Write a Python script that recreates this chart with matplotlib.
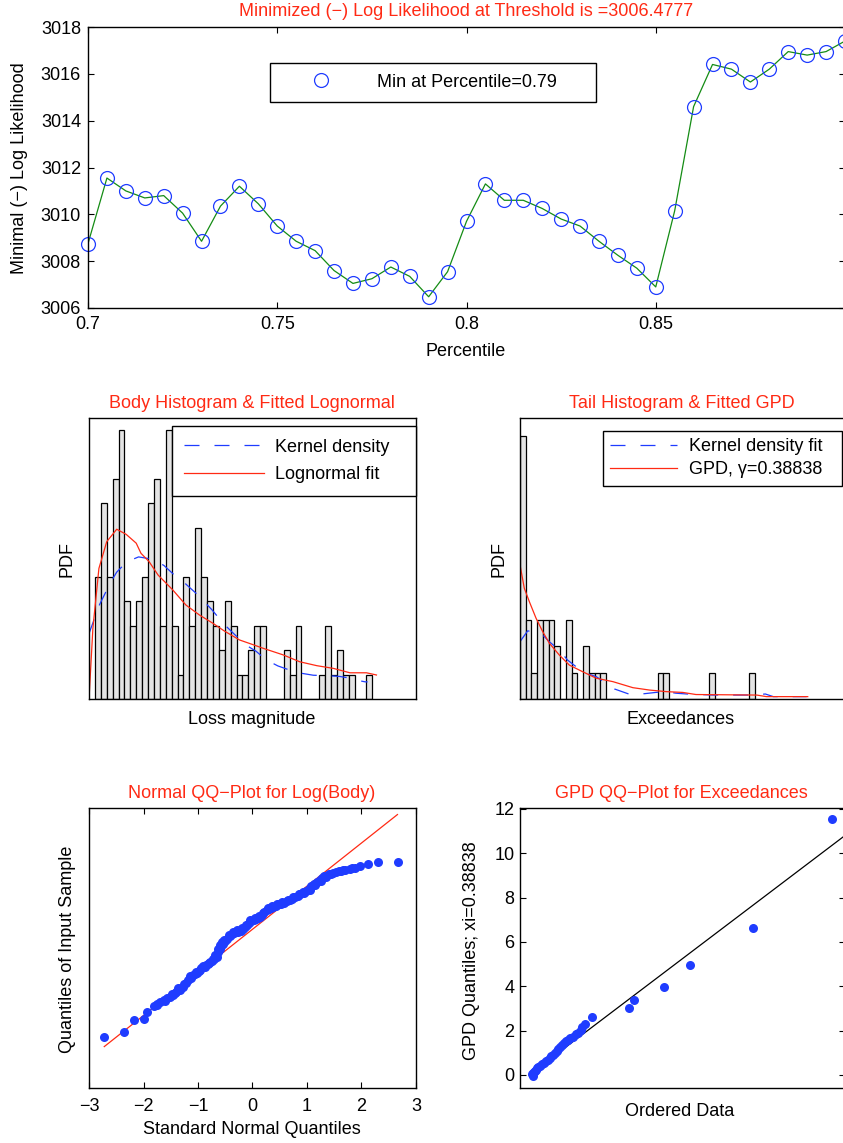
import matplotlib.pyplot as plt

plt.rcParams['font.family'] = ['Liberation Sans', 'DejaVu Sans']
plt.rcParams['font.size'] = 13
plt.rcParams['axes.linewidth'] = 1.0

W, H = 843, 1143
RED = '#ff2a14'
BLUE = '#1f3cff'
GREEN = '#148c14'
GRAY = '#e4e4e4'

# --- top panel: (-) log likelihood vs threshold percentile
percentile = [0.700, 0.705, 0.710, 0.715, 0.720, 0.725, 0.730, 0.735, 0.740, 0.745,
              0.750, 0.755, 0.760, 0.765, 0.770, 0.775, 0.780, 0.785, 0.790, 0.795,
              0.800, 0.805, 0.810, 0.815, 0.820, 0.825, 0.830, 0.835, 0.840, 0.845,
              0.850, 0.855, 0.860, 0.865, 0.870, 0.875, 0.880, 0.885, 0.890, 0.895,
              0.900]
neg_loglik = [3008.75, 3011.55, 3011.0, 3010.7, 3010.8, 3010.05, 3008.85, 3010.35, 3011.2, 3010.45,
              3009.5, 3008.85, 3008.45, 3007.6, 3007.05, 3007.25, 3007.75, 3007.35, 3006.48, 3007.55,
              3009.7, 3011.3, 3010.6, 3010.6, 3010.25, 3009.8, 3009.5, 3008.85, 3008.25, 3007.7,
              3006.9, 3010.15, 3014.6, 3016.4, 3016.2, 3015.65, 3016.2, 3016.95, 3016.8, 3016.95,
              3017.4]
top_xticks = [0.7, 0.75, 0.8, 0.85]
top_xticklabels = ['0.7', '0.75', '0.8', '0.85']
top_yticks = [3006, 3008, 3010, 3012, 3014, 3016, 3018]

# --- body histogram (x in bin-width units, y in counts)
body_counts = [5, 8, 5, 9, 11, 4, 3, 4, 5, 8, 9, 3, 11, 3, 1, 5, 3, 7, 5, 4,
               3, 2, 4, 3, 1, 1, 2, 3, 3, 0, 0, 0, 2, 1, 3, 0, 0, 0, 1, 3,
               1, 2, 1, 1, 0, 0, 1]
body_kde_x = [-1.0, 0.8, 2.7, 3.7, 5.4, 7.4, 9.9, 11.7, 13.5, 15.0, 17.2, 19.8, 21.8,
              23.6, 25.6, 27.3, 29.0, 31.0, 33.0, 35.0, 37.0, 39.5, 41.5, 43.0, 44.5, 45.8, 46.2]
body_kde_y = [2.67, 3.86, 4.78, 5.18, 5.6, 5.8, 5.7, 5.45, 5.05, 4.78, 4.3, 3.65, 3.07,
              2.65, 2.2, 1.95, 1.6, 1.35, 1.18, 1.05, 0.97, 0.95, 0.92, 0.86, 0.76, 0.7, 0.7]
body_fit_x = [-1.0, -0.34, 0.68, 2.0, 3.7, 5.3, 7.0, 7.8, 9.2, 10.7, 13.2, 15.4, 17.7,
              20.0, 21.9, 24.5, 27.0, 28.5, 31.9, 34.7, 37.6, 40.4, 43.2, 46.0, 47.7]
body_fit_y = [0.0, 2.89, 5.33, 6.42, 6.93, 6.72, 6.36, 5.95, 5.6, 5.06, 4.45, 3.84, 3.43,
              3.09, 2.78, 2.41, 2.2, 2.07, 1.8, 1.52, 1.36, 1.25, 1.07, 1.07, 0.98]

# --- tail histogram
tail_counts = [10, 3, 1, 3, 3, 3, 2, 0, 3, 1, 0, 2, 1, 1, 1, 0, 0, 0, 0, 0,
               0, 0, 0, 0, 1, 1, 0, 0, 0, 0, 0, 0, 0, 1, 0, 0, 0, 0, 0, 0, 1]
tail_kde_x = [0.0, 1.34, 3.66, 5.1, 6.86, 8.3, 9.77, 11.5, 13.3, 15.0, 16.5, 19.1, 20.8,
              23.7, 25.5, 27.2, 29.1, 33.7, 37.2, 40.7, 42.8, 44.2, 48.3, 50.0]
tail_kde_y = [2.18, 2.59, 2.5, 2.18, 1.86, 1.48, 1.23, 0.98, 0.85, 0.6, 0.38, 0.18, 0.18,
              0.25, 0.28, 0.22, 0.19, 0.15, 0.15, 0.15, 0.19, 0.09, 0.09, 0.09]
tail_fit_x = [0.0, 0.75, 1.63, 2.8, 3.96, 5.12, 6.86, 8.6, 10.9, 13.3, 16.2, 19.7, 22.6,
              25.5, 28.4, 30.7, 41.3, 43.0, 50.2]
tail_fit_y = [5.1, 4.21, 3.7, 3.07, 2.56, 2.12, 1.67, 1.29, 1.04, 0.79, 0.66, 0.43, 0.34,
              0.28, 0.25, 0.17, 0.15, 0.09, 0.09]
gpd_xi = 0.38838

# --- normal QQ plot of log(body)
qq_norm_x = [-2.72, -2.36, -2.17, -2.00, -1.93, -1.81, -1.75, -1.70, -1.63, -1.57,
             -1.52, -1.45, -1.40, -1.36, -1.31, -1.27, -1.22, -1.18, -1.15, -1.10,
             -1.06, -1.02, -0.98, -0.94, -0.90, -0.86, -0.82, -0.78, -0.74, -0.70,
             -0.66, -0.63, -0.60, -0.57, -0.54, -0.50, -0.46, -0.42, -0.38, -0.34,
             -0.30, -0.26, -0.22, -0.18, -0.14, -0.10, -0.06, -0.02, 0.02, 0.06,
             0.10, 0.14, 0.18, 0.22, 0.26, 0.30, 0.34, 0.38, 0.43, 0.48,
             0.53, 0.58, 0.63, 0.68, 0.73, 0.78, 0.83, 0.88, 0.93, 0.98,
             1.03, 1.08, 1.13, 1.18, 1.23, 1.28, 1.34, 1.40, 1.47, 1.54,
             1.62, 1.70, 1.78, 1.88, 1.97, 2.12, 2.31, 2.67,
             -1.75, -1.60, -1.48, -1.42, -1.33, -1.25, -1.12, -1.04, -0.96, -0.88,
             -0.80, -0.72, -0.68, -0.64, -0.60, -0.56, -0.52, -0.44, -0.36, -0.28,
             -0.20, -0.12, -0.04, 0.04, 0.12, 0.20, 0.28, 0.36, 0.45, 0.55,
             0.65, 0.75, 0.85, 0.95, 1.05, 1.15, 1.25, 1.32, 1.44, 1.58,
             1.66, 1.82]
qq_norm_y = [0.94, 1.02, 1.24, 1.26, 1.39, 1.50, 1.53, 1.57, 1.61, 1.65,
             1.67, 1.71, 1.76, 1.83, 1.84, 1.86, 1.93, 1.99, 2.05, 2.07,
             2.09, 2.11, 2.15, 2.20, 2.24, 2.26, 2.28, 2.31, 2.34, 2.37,
             2.41, 2.50, 2.55, 2.60, 2.65, 2.69, 2.74, 2.79, 2.82, 2.84,
             2.86, 2.87, 2.89, 2.92, 2.96, 2.99, 3.03, 3.06, 3.08, 3.10,
             3.12, 3.14, 3.18, 3.23, 3.27, 3.29, 3.31, 3.33, 3.35, 3.37,
             3.38, 3.40, 3.43, 3.45, 3.47, 3.50, 3.53, 3.56, 3.60, 3.62,
             3.66, 3.71, 3.75, 3.78, 3.82, 3.86, 3.88, 3.92, 3.94, 3.96,
             3.99, 4.00, 4.02, 4.04, 4.07, 4.12, 4.14, 4.14,
             1.55, 1.60, 1.72, 1.74, 1.80, 1.90, 2.02, 2.13, 2.17, 2.22,
             2.30, 2.36, 2.45, 2.55, 2.62, 2.68, 2.72, 2.80, 2.86, 2.90,
             2.93, 3.00, 3.08, 3.12, 3.16, 3.22, 3.30, 3.35, 3.38, 3.42,
             3.46, 3.50, 3.56, 3.58, 3.64, 3.72, 3.80, 3.90, 3.93, 3.98,
             4.01, 4.03]
qq_norm_line_x = [-2.72, 2.66]
qq_norm_line_y = [0.76, 5.02]

# --- GPD QQ plot of exceedances
qq_gpd_x = [0.12, 0.10, 0.15, 0.18, 0.20, 0.24, 0.26, 0.32, 0.38, 0.45,
            0.52, 0.58, 0.64, 0.70, 0.76, 0.82, 0.88, 0.94, 1.00, 1.06,
            1.12, 1.18, 1.26, 1.32, 1.40, 1.50, 1.60, 1.68, 1.76, 1.82,
            1.91, 2.15, 3.42, 3.57, 4.62, 5.50, 7.67, 10.35]
qq_gpd_y = [-0.03, 0.02, 0.07, 0.12, 0.18, 0.24, 0.30, 0.37, 0.42, 0.48,
            0.55, 0.62, 0.69, 0.76, 0.84, 0.92, 1.00, 1.08, 1.16, 1.25,
            1.33, 1.42, 1.52, 1.58, 1.65, 1.73, 1.83, 1.90, 2.03, 2.15,
            2.29, 2.62, 3.01, 3.38, 3.98, 4.98, 6.64, 11.55]
qq_gpd_line_x = [0.0, 11.5]
qq_gpd_line_y = [0.0, 11.5]
gpd_yticks = [0, 2, 4, 6, 8, 10, 12]


def rect(l, t, r, b):
    return [l / W, 1 - b / H, (r - l) / W, (b - t) / H]


fig = plt.figure(figsize=(W / 100, H / 100), dpi=100)


def ftext(x, y, s, **kw):
    fig.text(x / W, 1 - y / H, s, ha='center', va='center', **kw)


def box_ticks(ax):
    ax.tick_params(direction='in', top=True, right=True, length=4, width=0.8)


# top panel
ax1 = fig.add_axes(rect(88, 27, 845, 308))
ax1.plot(percentile, neg_loglik, '-', color=GREEN, lw=0.9)
ax1.plot(percentile, neg_loglik, 'o', mfc='none', mec=BLUE, ms=10, mew=0.9,
         clip_on=False, label='Min at Percentile=0.79')
ax1.set_xlim(0.7, 0.9)
ax1.set_ylim(3006, 3018)
ax1.set_xticks(top_xticks)
ax1.set_xticklabels(top_xticklabels)
ax1.set_yticks(top_yticks)
box_ticks(ax1)
ax1.tick_params(axis='x', pad=6)
ax1.tick_params(axis='y', pad=5)
leg = ax1.legend(loc='upper left', bbox_to_anchor=(0.2404, 0.872, 0.4306, 0.0), mode='expand',
                 borderaxespad=0, fancybox=False, framealpha=1, edgecolor='black',
                 handlelength=4.5, handletextpad=0.8, borderpad=0.6)
leg.get_frame().set_linewidth(1.0)
ftext(466, 12, 'Minimized (\u2212) Log Likelihood at Threshold is =3006.4777', color=RED)
ftext(20, 168, 'Minimal (\u2212) Log Likelihood', rotation=90)
ftext(466, 352, 'Percentile')

# body histogram
ax2 = fig.add_axes(rect(89, 418, 416, 699))
ax2.bar(range(len(body_counts)), body_counts, width=1, align='edge',
        color=GRAY, edgecolor='black', linewidth=0.9)
ax2.plot(body_kde_x, body_kde_y, color=BLUE, lw=0.9, dashes=[12, 12], label='Kernel density')
ax2.plot(body_fit_x, body_fit_y, color=RED, lw=0.9, label='Lognormal fit')
ax2.set_xlim(-1.0, 54.4)
ax2.set_ylim(0, 11.47)
ax2.set_xticks([])
ax2.set_yticks([])
leg = ax2.legend(loc='upper left', bbox_to_anchor=(0.253, 0.9715, 0.747, 0.0), mode='expand',
                 borderaxespad=0, fancybox=False, framealpha=1, edgecolor='black',
                 handlelength=4.4, handletextpad=0.6, labelspacing=0.6, borderpad=0.7)
leg.get_frame().set_linewidth(1.0)
ftext(252, 403, 'Body Histogram & Fitted Lognormal', color=RED)
ftext(252, 720, 'Loss magnitude')
ftext(67, 559, 'PDF', rotation=90)

# tail histogram
ax3 = fig.add_axes(rect(520, 418, 845, 699))
ax3.bar(range(len(tail_counts)), tail_counts, width=1, align='edge',
        color=GRAY, edgecolor='black', linewidth=0.9)
ax3.plot(tail_kde_x, tail_kde_y, color=BLUE, lw=0.9, dashes=[12, 12], label='Kernel density fit')
ax3.plot(tail_fit_x, tail_fit_y, color=RED, lw=0.9, label='GPD, \u03b3=%g' % gpd_xi)
ax3.set_xlim(0, 56.7)
ax3.set_ylim(0, 10.68)
ax3.set_xticks([])
ax3.set_yticks([])
leg = ax3.legend(loc='upper left', bbox_to_anchor=(0.2545, 0.954, 0.736, 0.0), mode='expand',
                 borderaxespad=0, fancybox=False, framealpha=1, edgecolor='black',
                 handlelength=3.7, handletextpad=0.7, labelspacing=0.35, borderpad=0.4)
leg.get_frame().set_linewidth(1.0)
ftext(682, 403, 'Tail Histogram & Fitted GPD', color=RED)
ftext(681, 720, 'Exceedances')
ftext(499, 559, 'PDF', rotation=90)

# normal QQ
ax4 = fig.add_axes(rect(89, 808, 416, 1088))
ax4.plot(qq_norm_line_x, qq_norm_line_y, color=RED, lw=0.9)
ax4.plot(qq_norm_x, qq_norm_y, 'o', color=BLUE, ms=6.5, mew=0)
ax4.set_xlim(-3, 3)
ax4.set_ylim(0, 5.14)
ax4.set_xticks([-3, -2, -1, 0, 1, 2, 3])
ax4.set_yticks([])
box_ticks(ax4)
ax4.tick_params(axis='x', pad=7)
ftext(252, 793, 'Normal QQ\u2212Plot for Log(Body)', color=RED)
ftext(252, 1130, 'Standard Normal Quantiles')
ftext(68, 949, 'Quantiles of Input Sample', rotation=90)

# GPD QQ
ax5 = fig.add_axes(rect(520, 808, 845, 1088))
ax5.plot(qq_gpd_line_x, qq_gpd_line_y, color='black', lw=0.9)
ax5.plot(qq_gpd_x, qq_gpd_y, 'o', color=BLUE, ms=6.5, mew=0)
ax5.set_xlim(-0.31, 10.8)
ax5.set_ylim(-0.59, 12.04)
ax5.set_xticks([])
ax5.set_yticks(gpd_yticks)
box_ticks(ax5)
ax5.tick_params(axis='y', pad=4)
ftext(681, 793, 'GPD QQ\u2212Plot for Exceedances', color=RED)
ftext(680, 1112, 'Ordered Data')
ftext(472, 951, 'GPD Quantiles; xi=%g' % gpd_xi, rotation=90)

fig.savefig('out.png', dpi=100)
